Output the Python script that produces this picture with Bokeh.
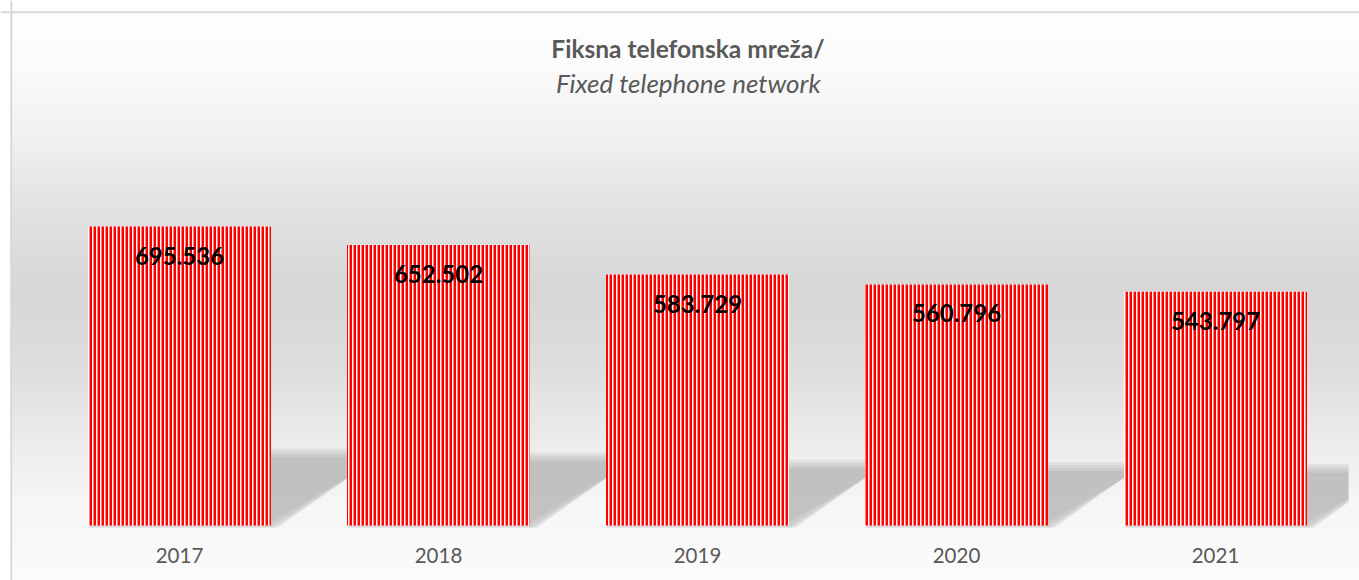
import numpy as np
from bokeh.plotting import figure
from bokeh.models import Range1d, Span, ColumnDataSource
from bokeh.core.properties import value
from bokeh.embed import file_html
from bokeh.resources import INLINE

# ---- data ----
years = ["2017", "2018", "2019", "2020", "2021"]
subscribers = [695536, 652502, 583729, 560796, 543797]
title_line1 = "Fiksna telefonska mreža/"
title_line2 = "Fixed telephone network"

# ---- layout helpers (canvas pixels -> data) ----
W, H = 1359, 580
PX_PER_CAT = 259.0
X0_PX = 49.5            # canvas x of category slot 0 start
BASE_PX = 525.0         # canvas y of value 0
PX_PER_UNIT = 299.0 / 695536.0
BAR_W = 183.0 / PX_PER_CAT
CLIP_PX = 1348.0        # right edge of plot area (shadow clip)


def x_of(px):
    return (px - X0_PX) / PX_PER_CAT


def y_of(py):
    return (BASE_PX - py) / PX_PER_UNIT


p = figure(width=W, height=H, output_backend="svg", toolbar_location=None,
           x_range=Range1d(x_of(0), x_of(W)), y_range=Range1d(y_of(H), y_of(0)),
           x_axis_location=None, y_axis_location=None,
           min_border=0, outline_line_color=None,
           background_fill_color="white", border_fill_color="white")
p.grid.visible = False

# ---- background gradient ----
top_px, left_px = 11, 10
rows = H - top_px
page_y = (H - 1 - np.arange(rows)) + 0.5  # row 0 is bottom
stops_y = [11, 60, 133, 200, 290, 367, 433, 500, 580]
stops_g = [254, 252, 242, 228, 215, 222, 235, 246, 252]
g = np.interp(page_y, stops_y, stops_g).astype(np.uint8)
img = np.empty((rows, 4, 4), dtype=np.uint8)
img[:, :, 0] = g[:, None]
img[:, :, 1] = g[:, None]
img[:, :, 2] = g[:, None]
img[:, :, 3] = 255
img32 = img.view(dtype=np.uint32).reshape(rows, 4)
p.image_rgba(image=[img32], x=x_of(left_px), y=y_of(H),
             dw=x_of(W) - x_of(left_px), dh=y_of(top_px) - y_of(H))

# ---- perspective shadows behind bars ----
xs_c = np.arange(len(years)) + 0.5
vmax = max(subscribers)
xclip = x_of(CLIP_PX)
for e, a in [(7, 0.2), (4, 0.22), (1, 0.24), (-2, 0.26)]:
    pxs, pys = [], []
    for xc, v in zip(xs_c, subscribers):
        L, R = xc - BAR_W / 2, xc + BAR_W / 2
        h = 0.234 * v
        off = (112.0 * v / vmax) / PX_PER_CAT
        ex = e / PX_PER_CAT
        ey = e / PX_PER_UNIT
        eb = min(e, 2) / PX_PER_UNIT
        bl = (L, -eb)
        br = (R + ex, -eb)
        tr = (R + off + ex, h + ey)
        tl = (L + off, h + ey)
        if tr[0] > xclip:
            t = (xclip - br[0]) / (tr[0] - br[0])
            yi = br[1] + t * (tr[1] - br[1])
            pts = [bl, br, (xclip, yi), (xclip, tr[1]), tl]
        else:
            pts = [bl, br, tr, tl]
        pxs.append([q[0] for q in pts])
        pys.append([q[1] for q in pts])
    p.patches(pxs, pys, fill_color="#a8a8a8", fill_alpha=a, line_color=None)

# ---- bars ----
src = ColumnDataSource(dict(
    x=xs_c, top=subscribers, year=years,
    label=[f"{v:,}".replace(",", ".") for v in subscribers]))
p.vbar(x="x", top="top", width=BAR_W, bottom=0, source=src,
       fill_color="white", line_color=None,
       hatch_pattern="vertical_line", hatch_color="#ff0000",
       hatch_scale=4, hatch_weight=3)

# ---- data labels ----
p.text(x="x", y="top", text="label", source=src,
       text_font=value("Lato"), text_font_style="bold", text_font_size="24px",
       text_color="black", text_align="center", text_baseline="alphabetic",
       y_offset=29)

# ---- category labels ----
p.text(x="x", y=y_of(555), text="year", source=src,
       text_font=value("Lato"), text_font_size="20.5px", text_color="#595959",
       text_align="center", text_baseline="alphabetic")

# ---- title ----
p.text(x=[x_of(687.5)], y=[y_of(47.5)], text=[title_line1],
       text_font=value("Lato"), text_font_style="bold", text_font_size="24.5px",
       text_color="#595959", text_align="center", text_baseline="alphabetic")
p.text(x=[x_of(688)], y=[y_of(82)], text=[title_line2],
       text_font=value("Lato"), text_font_style="italic", text_font_size="26px",
       text_color="#595959", text_align="center", text_baseline="alphabetic")

# ---- chart border (left / top) ----
p.add_layout(Span(location=x_of(10.8), dimension="height",
                  line_color="#d9d9d9", line_width=2))
p.add_layout(Span(location=y_of(11.8), dimension="width",
                  line_color="#d9d9d9", line_width=2))

open("out.html", "w").write(file_html(p, INLINE))
